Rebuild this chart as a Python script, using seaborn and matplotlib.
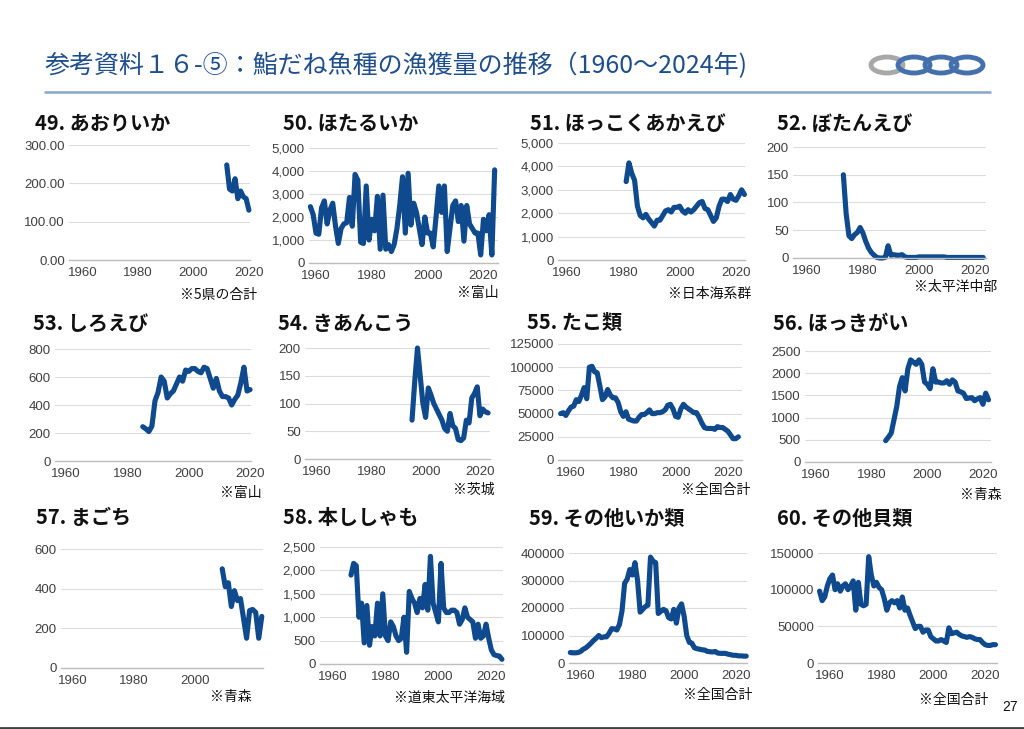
import matplotlib
matplotlib.use("Agg")
import matplotlib.pyplot as plt
import matplotlib.ticker as mticker
from matplotlib.patches import Ellipse
from matplotlib.lines import Line2D
import pandas as pd
import seaborn as sns

# ---- データ (年ごとの漁獲量、グラフから読み取り) ----
header = "参考資料１６-⑤：鮨だね魚種の漁獲量の推移（1960～2024年)"

aoriika_years = list(range(2012, 2021))
aoriika_values = [248, 185, 180, 212, 160, 180, 165, 160, 130]

hotaruika_years = list(range(1958, 2025))
hotaruika_values = [2450, 2100, 1300, 1250, 2400, 2700, 1700, 2300, 2600, 1600,
                    850, 1500, 1700, 1750, 2850, 1600, 3850, 3600, 900, 850,
                    3350, 1000, 1900, 1400, 2900, 600, 2950, 600, 800, 500,
                    800, 1500, 2500, 3750, 1300, 3900, 1650, 2600, 2200, 1500,
                    800, 2000, 1300, 1300, 700, 2000, 3350, 2200, 3350, 500,
                    1500, 2500, 2700, 1800, 2500, 950, 2500, 1700, 1500, 1300,
                    1300, 350, 1900, 1400, 2100, 350, 4050]

akaebi_years = list(range(1981, 2024))
akaebi_values = [3350, 4150, 3700, 3400, 2300, 1900, 1800, 1950, 1750, 1600,
                 1450, 1700, 1700, 1900, 2100, 2150, 2050, 2250, 2250, 2300,
                 2100, 2000, 2150, 2050, 2150, 2300, 2450, 2500, 2200, 2150,
                 1900, 1650, 1800, 2300, 2600, 2600, 2500, 2800, 2600, 2550,
                 2750, 3000, 2800]

botanebi_years = list(range(1973, 2024))
botanebi_values = [150, 80, 40, 35, 42, 46, 55, 45, 30, 18,
                   10, 5, 1, 0, 0, 1, 22, 5, 6, 5,
                   5, 6, 2, 1, 1, 1, 1, 2, 2, 2,
                   2, 2, 2, 2, 2, 2, 2, 1, 1, 1,
                   1, 1, 1, 1, 1, 1, 1, 1, 1, 1, 1]

shiroebi_years = list(range(1985, 2021))
shiroebi_values = [245, 230, 210, 250, 430, 490, 600, 570, 450, 480,
                   500, 550, 600, 570, 650, 640, 660, 660, 640, 630,
                   670, 660, 590, 520, 590, 500, 460, 460, 450, 400,
                   440, 470, 560, 670, 500, 510]

kiankou_years = list(range(1995, 2024))
kiankou_values = [70, 140, 200, 150, 100, 75, 128, 115, 100, 90,
                  80, 70, 55, 50, 82, 60, 55, 35, 33, 38,
                  70, 65, 110, 118, 130, 78, 90, 85, 83]

tako_years = list(range(1956, 2025))
tako_values = [50000, 51000, 48000, 53000, 57000, 58000, 65000, 63000, 70000, 78000,
               66000, 100000, 101000, 95000, 94000, 80000, 65000, 68000, 76000, 70000,
               67000, 67000, 62000, 52000, 47000, 52000, 44000, 43000, 42000, 42000,
               46000, 49000, 49000, 51000, 54000, 50000, 50000, 51000, 51000, 52000,
               54000, 59000, 60000, 55000, 47000, 46000, 55000, 60000, 57000, 55000,
               53000, 51000, 51000, 46000, 40000, 35000, 34000, 34000, 34000, 33000,
               36000, 35000, 35000, 33000, 31000, 27000, 23000, 23000, 25000]

hokki_years = list(range(1985, 2023))
hokki_values = [480, 560, 650, 950, 1250, 1700, 1900, 1600, 2100, 2300,
                2250, 2200, 2300, 2200, 1800, 1750, 1650, 2100, 1800, 1800,
                1780, 1780, 1830, 1750, 1850, 1800, 1600, 1580, 1550, 1430,
                1440, 1450, 1380, 1420, 1450, 1300, 1550, 1400]

magochi_years = list(range(2009, 2023))
magochi_values = [500, 410, 430, 310, 390, 340, 350, 250, 150, 290,
                  295, 280, 150, 260]

shishamo_years = list(range(1967, 2025))
shishamo_values = [1900, 2150, 2100, 1000, 1300, 450, 1250, 400, 800, 600,
                   1300, 600, 1500, 600, 500, 900, 800, 600, 500, 550,
                   1000, 250, 1550, 1400, 1300, 1100, 1400, 1200, 1700, 1150,
                   2300, 1300, 1100, 900, 2150, 1200, 1100, 1100, 1150, 1150,
                   1100, 850, 950, 1200, 1000, 950, 900, 550, 850, 550,
                   600, 850, 550, 300, 200, 180, 170, 100]

ika_years = list(range(1956, 2025))
ika_values = [38000, 37000, 37000, 38000, 42000, 50000, 55000, 63000, 72000, 82000,
              90000, 100000, 92000, 95000, 95000, 108000, 125000, 124000, 120000, 140000,
              190000, 290000, 305000, 340000, 320000, 365000, 300000, 185000, 195000, 205000,
              210000, 385000, 370000, 365000, 180000, 188000, 195000, 190000, 165000, 160000,
              195000, 145000, 200000, 215000, 170000, 100000, 75000, 72000, 55000, 52000,
              50000, 48000, 47000, 42000, 41000, 40000, 42000, 36000, 35000, 35000,
              35000, 32000, 30000, 28000, 28000, 26000, 26000, 25000, 25000]

kai_years = list(range(1956, 2025))
kai_values = [98000, 85000, 90000, 105000, 115000, 120000, 100000, 108000, 98000, 105000,
              108000, 100000, 105000, 112000, 72000, 110000, 80000, 78000, 80000, 145000,
              120000, 105000, 110000, 103000, 100000, 88000, 72000, 82000, 85000, 82000,
              85000, 75000, 90000, 72000, 75000, 65000, 56000, 47000, 50000, 50000,
              42000, 45000, 45000, 36000, 33000, 30000, 30000, 32000, 30000, 28000,
              48000, 40000, 41000, 42000, 39000, 37000, 36000, 35000, 36000, 35000,
              33000, 32000, 32000, 28000, 25000, 24000, 24000, 25000, 25000]

# ---- 見た目の設定 ----
sns.set_theme(style="white")
plt.rcParams['font.family'] = ['Liberation Sans', 'Noto Sans CJK JP', 'DejaVu Sans']
JP = ['Noto Sans CJK JP', 'DejaVu Sans']
LINE_COLOR = "#0f4a8e"

W, H = 1024, 729
fig = plt.figure(figsize=(W / 100, H / 100), dpi=100)


def rect(l, t, r, b):
    # ピクセル座標 -> figure座標
    return [l / W, 1 - b / H, (r - l) / W, (b - t) / H]


fmt_dec = lambda v, p: f"{v:.2f}"
fmt_comma = lambda v, p: f"{v:,.0f}"
fmt_plain = lambda v, p: f"{v:.0f}"

# (タイトル, 注記, 年, 値, y目盛, 書式, 軸の位置, xlim, タイトル位置, 注記位置, x目盛)
panels = [
    ("49. あおりいか", "※5県の合計", aoriika_years, aoriika_values, [0, 100, 200, 300], fmt_dec,
     (69, 145, 250, 260), (1955, 2020.4), (35, 123), (257, 295), [1960, 1980, 2000, 2020]),
    ("50. ほたるいか", "※富山", hotaruika_years, hotaruika_values, range(0, 5001, 1000), fmt_comma,
     (309, 148, 498, 263), (1957.5, 2025.2), (283, 123), (499, 293), [1960, 1980, 2000, 2020]),
    ("51. ほっこくあかえび", "※日本海系群", akaebi_years, akaebi_values, range(0, 5001, 1000), fmt_comma,
     (558, 143, 745, 260), (1956.8, 2023.2), (530, 123), (751, 294), [1960, 1980, 2000, 2020]),
    ("52. ぼたんえび", "※太平洋中部", botanebi_years, botanebi_values, range(0, 201, 50), fmt_plain,
     (793, 147, 986, 258), (1955, 2024), (777, 123), (997, 287), [1960, 1980, 2000, 2020]),
    ("53. しろえび", "※富山", shiroebi_years, shiroebi_values, range(0, 801, 200), fmt_plain,
     (55, 349, 251, 461), (1956.4, 2020.3), (33, 323), (262, 493), [1960, 1980, 2000, 2020]),
    ("54. きあんこう", "※茨城", kiankou_years, kiankou_values, range(0, 201, 50), fmt_plain,
     (305, 348, 490, 459), (1955.6, 2023.7), (278, 323), (495, 490), [1960, 1980, 2000, 2020]),
    ("55. たこ類", "※全国合計", tako_years, tako_values, range(0, 125001, 25000), fmt_plain,
     (558, 344, 742, 460), (1955, 2025.4), (527, 322), (750, 490), [1960, 1980, 2000, 2020]),
    ("56. ほっきがい", "※青森", hokki_years, hokki_values, range(0, 2501, 500), fmt_plain,
     (805, 351, 991, 462), (1956, 2022.9), (773, 323), (1002, 495), [1960, 1980, 2000, 2020]),
    ("57. まごち", "※青森", magochi_years, magochi_values, range(0, 601, 200), fmt_plain,
     (61, 549, 263, 668), (1956, 2022.4), (36, 518), (252, 697), [1960, 1980, 2000]),
    ("58. 本ししゃも", "※道東太平洋海域", shishamo_years, shishamo_values, range(0, 2501, 500), fmt_comma,
     (320, 547, 503, 664), (1955.3, 2024.4), (283, 518), (505, 698), [1960, 1980, 2000, 2020]),
    ("59. その他いか類", "※全国合計", ika_years, ika_values, range(0, 400001, 100000), fmt_plain,
     (569, 553, 747, 663), (1955.5, 2024.3), (529, 518), (752, 695), [1960, 1980, 2000, 2020]),
    ("60. その他貝類", "※全国合計", kai_years, kai_values, range(0, 150001, 50000), fmt_plain,
     (818, 553, 997, 663), (1955.4, 2024.6), (777, 518), (988, 700), [1960, 1980, 2000, 2020]),
]

for title, note, years, values, yticks, fmt, box, xlim, t_xy, n_xy, xticks in panels:
    ax = fig.add_axes(rect(*box))
    df = pd.DataFrame({"year": years, "value": values})
    sns.lineplot(data=df, x="year", y="value", ax=ax, color=LINE_COLOR,
                 linewidth=3.7, solid_joinstyle="round", solid_capstyle="round",
                 clip_on=False)
    yticks = list(yticks)
    ax.set_xlim(*xlim)
    ax.set_ylim(0, yticks[-1])
    ax.set_yticks(yticks)
    ax.set_xticks(xticks)
    ax.yaxis.set_major_formatter(mticker.FuncFormatter(fmt))
    ax.grid(axis="y", color="#dcdcdc", linewidth=0.8)
    ax.grid(axis="x", visible=False)
    for s in ["top", "right", "left"]:
        ax.spines[s].set_visible(False)
    ax.spines["bottom"].set_color("#bdbdbd")
    ax.spines["bottom"].set_linewidth(1)
    ax.tick_params(length=0, labelsize=9.5, colors="#404040")
    ax.tick_params(axis="y", pad=3)
    ax.tick_params(axis="x", pad=5)
    ax.set_xlabel("")
    ax.set_ylabel("")
    ax.set_facecolor("none")

    fig.text(t_xy[0] / W, 1 - t_xy[1] / H, title, fontsize=14.5, fontweight="bold",
             family=JP, ha="left", va="center", color="#111111")
    fig.text(n_xy[0] / W, 1 - n_xy[1] / H, note, fontsize=10, family=JP,
             ha="right", va="center", color="#111111")

# 見出し
fig.text(45 / W, 1 - 66 / H, header, fontsize=18, family=JP, color="#1f4e8c",
         ha="left", va="center")
fig.add_artist(Line2D([45 / W, 990 / W], [1 - 92 / H] * 2, color="#8aa4c8", linewidth=1.8))

# ロゴ (輪のつながり)
logo = fig.add_axes(rect(862, 50, 992, 80))
logo.set_xlim(862, 992)
logo.set_ylim(80, 50)
logo.axis("off")
for i, cx in enumerate([887, 914, 941, 967]):
    logo.add_patch(Ellipse((cx, 65), 32, 16, fill=False, linewidth=3.5,
                           edgecolor="#a8a8a8" if i == 0 else "#4470ad"))

# ページ番号と下線
fig.text(1010 / W, 1 - 707 / H, "27", fontsize=10, ha="center", va="center", color="#111111")
fig.add_artist(Line2D([0, 1], [1 - 727.5 / H] * 2, color="#404040", linewidth=2))

fig.savefig("out.png", dpi=100)
